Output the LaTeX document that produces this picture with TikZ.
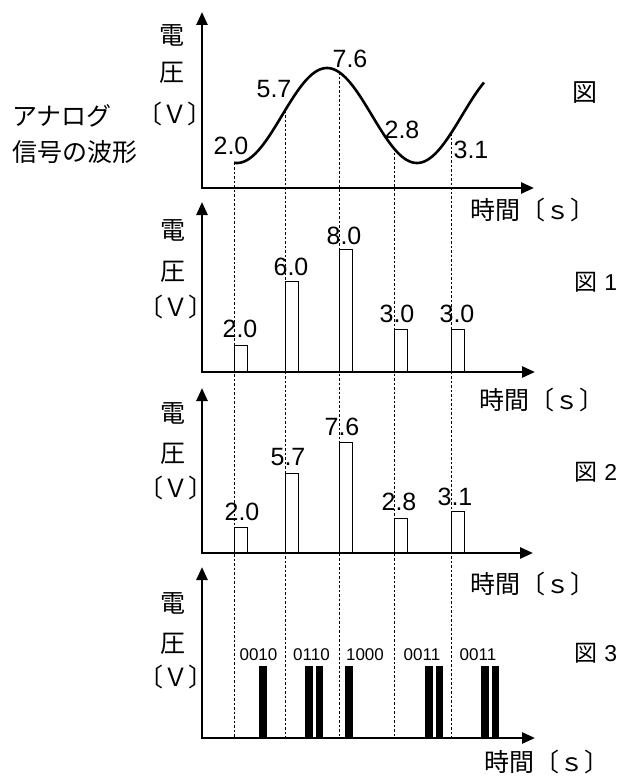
\documentclass[tikz,border=0pt]{standalone}
\usepackage{fontspec}
\setmainfont{Liberation Sans}
\newfontfamily\jp{Noto Sans CJK JP}
\usetikzlibrary{arrows.meta}
\begin{document}
\begin{tikzpicture}[x=1pt,y=-1pt,
  axis/.style={line width=2.6pt,line join=miter,{Triangle[length=13pt,width=11pt]}-{Triangle[length=13pt,width=11pt]}},
  guide/.style={line width=0.8pt, dash pattern=on 2.5pt off 2pt},
  sbar/.style={draw, line width=1pt, fill=white},
  pulse/.style={fill=black},
  num/.style={font=\fontsize{25}{25}\selectfont, inner sep=0pt},
  code/.style={font=\fontsize{17}{17}\selectfont, inner sep=0pt},
  jlab/.style={font=\jp\fontsize{25}{25}\selectfont, inner sep=0pt},
  flab/.style={font=\fontsize{23}{23}\selectfont, inner sep=0pt},
]
\useasboundingbox (0,0) rectangle (623,776);

% sample instants on the curve and on the bottom axis
\foreach \n/\x in {a/234,b/285,c/339,d/394,e/451}{
  \coordinate (t\n) at (\x,{115.5+47.5*cos(2*(\x-417))});
  \coordinate (g\n) at (\x,738);
}
\foreach \n in {a,b,c,d,e}{ \draw[guide] (t\n) -- (g\n); }

% ---- panel 0: analogue waveform
\coordinate (o0) at (202,188); \coordinate (y0) at (202,12); \coordinate (x0) at (534,188);
\draw[axis] (y0) -- (o0) -- (x0);
\draw[line width=2.6pt] plot[domain=234:484, samples=120] (\x,{115.5+47.5*cos(2*(\x-417))});
\node[num] (v0a) at (231,146) {2.0};
\node[num] (v0b) at (274,89) {5.7};
\node[num] (v0c) at (350,59) {7.6};
\node[num] (v0d) at (402,130) {2.8};
\node[num] (v0e) at (471,150) {3.1};
\node[jlab] (d0) at (172,35) {電};
\node[jlab] (p0) at (172,73) {圧};
\node[jlab] (u0) at (175,114) {〔Ｖ〕};
\node[jlab] (ts0) at (533,210) {時間〔ｓ〕};
\node[jlab] (f0) at (585,93) {図};
\node[jlab,anchor=west] (an1) at (12,116) {アナログ};
\node[jlab,anchor=west] (an2) at (12,152) {信号の波形};

% ---- panel 1: quantised (rounded)
\coordinate (o1) at (202,372); \coordinate (y1) at (202,202); \coordinate (x1) at (535,372);
\foreach \x/\t in {234/345,285/281,339/249,394/329,451/329}{
  \draw[sbar] (\x,372) rectangle (\x+13,\t);
}
\draw[axis] (y1) -- (o1) -- (x1);
\node[num] (v1a) at (240,329) {2.0};
\node[num] (v1b) at (291,267) {6.0};
\node[num] (v1c) at (344,236) {8.0};
\node[num] (v1d) at (397,314) {3.0};
\node[num] (v1e) at (457,314) {3.0};
\node[jlab] (d1) at (173,230) {電};
\node[jlab] (p1) at (173,272) {圧};
\node[jlab] (u1) at (176,307) {〔Ｖ〕};
\node[jlab] (ts1) at (542,400) {時間〔ｓ〕};
\node[flab] (f1) at (596,282) {{\jp 図} 1};

% ---- panel 2: sampled values
\coordinate (o2) at (202,553); \coordinate (y2) at (202,388); \coordinate (x2) at (533,553);
\foreach \x/\t in {234/527,285/473,339/442,394/518,451/511}{
  \draw[sbar] (\x,553) rectangle (\x+13,\t);
}
\draw[axis] (y2) -- (o2) -- (x2);
\node[num] (v2a) at (242,512) {2.0};
\node[num] (v2b) at (288,457) {5.7};
\node[num] (v2c) at (342,427) {7.6};
\node[num] (v2d) at (399,502) {2.8};
\node[num] (v2e) at (455,497) {3.1};
\node[jlab] (d2) at (173,413) {電};
\node[jlab] (p2) at (173,454) {圧};
\node[jlab] (u2) at (176,488) {〔Ｖ〕};
\node[jlab] (ts2) at (533,584) {時間〔ｓ〕};
\node[flab] (f2) at (596,472) {{\jp 図} 2};

% ---- panel 3: digital pulses
\coordinate (o3) at (202,738); \coordinate (y3) at (202,567); \coordinate (x3) at (535,738);
\foreach \l/\r in {259/267,305/313,316/323,345/353,425/433,436/443,481/489,492/499}{
  \fill[pulse] (\l,738) rectangle (\r,666);
}
\draw[axis] (y3) -- (o3) -- (x3);
\node[code] (c1) at (258.5,655) {0010};
\node[code] (c2) at (311.5,655) {0110};
\node[code] (c3) at (365,655) {1000};
\node[code] (c4) at (422,655) {0011};
\node[code] (c5) at (478,655) {0011};
\node[jlab] (d3) at (173,603) {電};
\node[jlab] (p3) at (173,644) {圧};
\node[jlab] (u3) at (176,677) {〔Ｖ〕};
\node[jlab] (ts3) at (547,762) {時間〔ｓ〕};
\node[flab] (f3) at (596,653) {{\jp 図} 3};
\end{tikzpicture}
\end{document}
